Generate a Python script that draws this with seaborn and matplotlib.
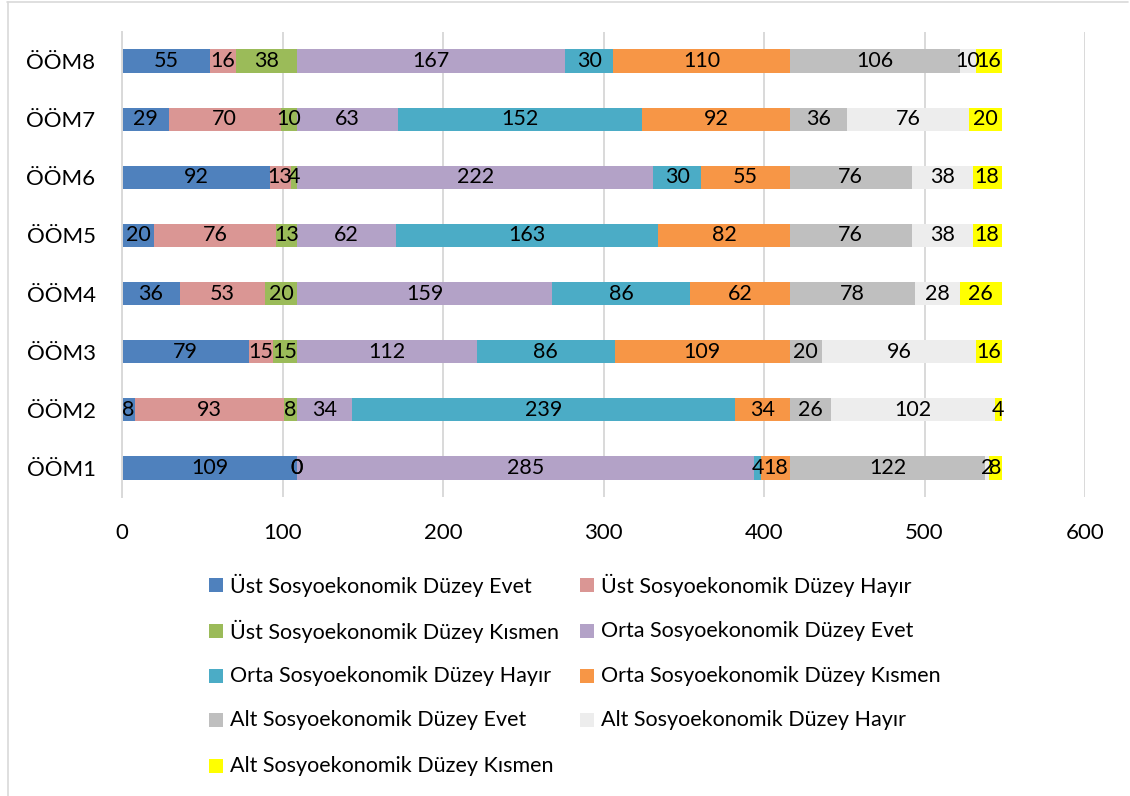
import numpy as np
import pandas as pd
import matplotlib
matplotlib.use("Agg")
import matplotlib.pyplot as plt
from matplotlib.lines import Line2D
from matplotlib.patches import Rectangle
import seaborn as sns

# Items, from top to bottom
items = ["ÖÖM8", "ÖÖM7", "ÖÖM6", "ÖÖM5", "ÖÖM4", "ÖÖM3", "ÖÖM2", "ÖÖM1"]

series_names = [
    "Üst Sosyoekonomik Düzey Evet",
    "Üst Sosyoekonomik Düzey Hayır",
    "Üst Sosyoekonomik Düzey Kısmen",
    "Orta Sosyoekonomik Düzey Evet",
    "Orta Sosyoekonomik Düzey Hayır",
    "Orta Sosyoekonomik Düzey Kısmen",
    "Alt Sosyoekonomik Düzey Evet",
    "Alt Sosyoekonomik Düzey Hayır",
    "Alt Sosyoekonomik Düzey Kısmen",
]

# Counts per series, aligned with `items`
ust_evet = [55, 29, 92, 20, 36, 79, 8, 109]
ust_hayir = [16, 70, 13, 76, 53, 15, 93, 0]
ust_kismen = [38, 10, 4, 13, 20, 15, 8, 0]
orta_evet = [167, 63, 222, 62, 159, 112, 34, 285]
orta_hayir = [30, 152, 30, 163, 86, 86, 239, 4]
orta_kismen = [110, 92, 55, 82, 62, 109, 34, 18]
alt_evet = [106, 36, 76, 76, 78, 20, 26, 122]
alt_hayir = [10, 76, 38, 38, 28, 96, 102, 2]
alt_kismen = [16, 20, 18, 18, 26, 16, 4, 8]

x_ticks = [0, 100, 200, 300, 400, 500, 600]

colors = ["#4F81BD", "#DA9694", "#9BBB59", "#B3A2C7", "#4BACC6",
          "#F79646", "#BFBFBF", "#EDEDED", "#FFFF00"]

series_values = [ust_evet, ust_hayir, ust_kismen, orta_evet, orta_hayir,
                 orta_kismen, alt_evet, alt_hayir, alt_kismen]

sns.set_theme(style="white")
plt.rcParams["font.family"] = ["Lato", "DejaVu Sans"]

W, H = 1130, 796
fig = plt.figure(figsize=(W / 100, H / 100), dpi=100)
ax = fig.add_axes([122 / W, 1 - 497 / H, 963 / W, 465 / H])

vals = np.array(series_values, dtype=float)
cum = np.cumsum(vals, axis=0)

# Stacked bars: draw cumulative totals from the outermost segment inward
for i in range(len(series_names) - 1, -1, -1):
    df = pd.DataFrame({"item": items, "value": cum[i]})
    sns.barplot(data=df, x="value", y="item", order=items, orient="h",
                color=colors[i], saturation=1, width=0.4, ax=ax,
                linewidth=0, zorder=2)

# Segment value labels
for i in range(len(series_names)):
    starts = cum[i] - vals[i]
    for j, v in enumerate(vals[i]):
        ax.text(starts[j] + v / 2, j, f"{int(v)}", ha="center", va="center",
                fontsize=15.5, color="black", zorder=5)

ax.set_xlim(0, 600)
ax.set_ylim(len(items) - 0.5, -0.5)
ax.set_xticks(x_ticks)
ax.set_xticklabels([str(t) for t in x_ticks])
ax.set_xlabel("")
ax.set_ylabel("")
ax.tick_params(axis="x", length=0, pad=19, labelsize=16, colors="black")
ax.tick_params(axis="y", length=0, pad=19, labelsize=16, colors="black")

ax.grid(axis="x", color="#D9D9D9", linewidth=1.4, zorder=0)
ax.grid(axis="y", visible=False)
ax.set_axisbelow(True)
for side in ["top", "right", "bottom"]:
    ax.spines[side].set_visible(False)
ax.spines["left"].set_color("#D9D9D9")
ax.spines["left"].set_linewidth(1.4)

# Legend: two columns filled row by row, placed in pixel positions
col_marker_x = [209, 580]
row_y = [585, 631, 676, 720, 766]
box = 14
for k, (name, c) in enumerate(zip(series_names, colors)):
    row, col = divmod(k, 2)
    mx = col_marker_x[col]
    my = row_y[row]
    fig.add_artist(Rectangle((mx / W, 1 - (my + box / 2) / H), box / W, box / H,
                             facecolor=c, edgecolor="none",
                             transform=fig.transFigure))
    fig.text((mx + box + 7) / W, 1 - my / H, name, ha="left", va="center",
             fontsize=15.5, color="black")

# Thin frame lines along the top and left edges of the figure
fig.add_artist(Line2D([7 / W, 1128 / W], [1 - 2 / H, 1 - 2 / H],
                      color="#D9D9D9", linewidth=1.2, transform=fig.transFigure))
fig.add_artist(Line2D([7.5 / W, 7.5 / W], [0, 1 - 2 / H],
                      color="#D9D9D9", linewidth=1.2, transform=fig.transFigure))

fig.savefig("out.png", dpi=100)
